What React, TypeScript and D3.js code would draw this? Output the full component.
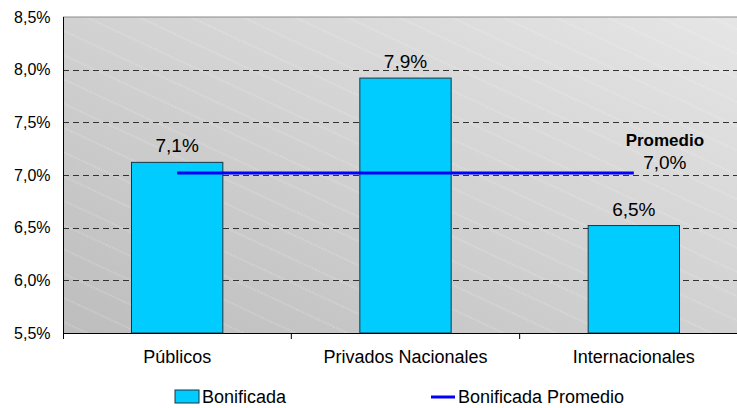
import React, { useEffect, useRef } from 'react';
import * as d3 from 'd3';

const categories = ['Públicos', 'Privados Nacionales', 'Internacionales'];
const bonificada = [7.12, 7.92, 6.52];
const bonificadaPromedio = 7.02;
const barLabels = ['7,1%', '7,9%', '6,5%'];
const promedioLabel = '7,0%';
const yTicks = [5.5, 6.0, 6.5, 7.0, 7.5, 8.0, 8.5];

const WIDTH = 737;
const HEIGHT = 408;
const FONT = '"Liberation Sans", Arial, sans-serif';

const App: React.FC = () => {
  const svgRef = useRef<SVGSVGElement>(null);

  useEffect(() => {
    const svg = d3.select(svgRef.current);
    svg.selectAll('*').remove();

    const marginLeft = 63;
    const marginTop = 17;
    const marginBottom = 75;
    const plotRight = 748; // plot runs past the right edge of the picture

    const locale = d3.formatLocale({ decimal: ',', thousands: '.', grouping: [3], currency: ['', '€'] });
    const fmt = locale.format('.1f');

    const x = d3.scaleBand<string>()
      .domain(categories)
      .range([marginLeft, plotRight])
      .paddingInner(0.6)
      .paddingOuter(0.3);

    const y = d3.scaleLinear()
      .domain([5.5, 8.5])
      .range([HEIGHT - marginBottom, marginTop]);

    const defs = svg.append('defs');
    const grad = defs.append('linearGradient')
      .attr('id', 'bg')
      .attr('x1', '0%').attr('y1', '100%')
      .attr('x2', '100%').attr('y2', '0%');
    grad.append('stop').attr('offset', '0%').attr('stop-color', '#bdbdbd');
    grad.append('stop').attr('offset', '100%').attr('stop-color', '#e6e6e6');

    const hatch = defs.append('pattern')
      .attr('id', 'hatch')
      .attr('patternUnits', 'userSpaceOnUse')
      .attr('width', 40)
      .attr('height', 22)
      .attr('patternTransform', 'rotate(25)');
    hatch.append('line')
      .attr('x1', 0).attr('y1', 1).attr('x2', 40).attr('y2', 1)
      .attr('stroke', '#ffffff')
      .attr('stroke-opacity', 0.4)
      .attr('stroke-width', 0.8)
      .attr('stroke-dasharray', '2,1');

    const plotH = y(5.5) - y(8.5);
    // Plot background
    svg.append('rect')
      .attr('x', marginLeft).attr('y', y(8.5))
      .attr('width', plotRight - marginLeft).attr('height', plotH)
      .attr('fill', 'url(#bg)');
    svg.append('rect')
      .attr('x', marginLeft).attr('y', y(8.5))
      .attr('width', plotRight - marginLeft).attr('height', plotH)
      .attr('fill', 'url(#hatch)');

    // Top border
    svg.append('line')
      .attr('x1', marginLeft).attr('x2', plotRight)
      .attr('y1', y(8.5)).attr('y2', y(8.5))
      .attr('stroke', '#8a8a8a').attr('stroke-width', 1);

    // Dashed gridlines
    svg.append('g')
      .selectAll('line')
      .data(yTicks.filter(t => t > 5.5 && t < 8.5))
      .enter()
      .append('line')
      .attr('x1', marginLeft).attr('x2', plotRight)
      .attr('y1', d => Math.round(y(d)) + 0.5).attr('y2', d => Math.round(y(d)) + 0.5)
      .attr('stroke', '#333')
      .attr('stroke-width', 1)
      .attr('stroke-dasharray', '6,4');

    // Bars
    svg.append('g')
      .selectAll('rect')
      .data(categories)
      .enter()
      .append('rect')
      .attr('x', d => x(d)!)
      .attr('y', (d, i) => y(bonificada[i]))
      .attr('width', x.bandwidth())
      .attr('height', (d, i) => y(5.5) - y(bonificada[i]))
      .attr('fill', '#00ccff')
      .attr('stroke', '#1b3440')
      .attr('stroke-width', 1);

    // Bar labels
    svg.append('g')
      .selectAll('text')
      .data(categories)
      .enter()
      .append('text')
      .attr('x', d => x(d)! + x.bandwidth() / 2)
      .attr('y', (d, i) => y(bonificada[i]) - 10)
      .attr('text-anchor', 'middle')
      .attr('font-family', FONT)
      .attr('font-size', '19px')
      .attr('fill', '#000')
      .text((d, i) => barLabels[i]);

    // Average line
    const first = categories[0];
    const last = categories[categories.length - 1];
    svg.append('line')
      .attr('x1', x(first)! + x.bandwidth() / 2)
      .attr('x2', x(last)! + x.bandwidth() / 2)
      .attr('y1', y(bonificadaPromedio)).attr('y2', y(bonificadaPromedio))
      .attr('stroke', '#0000ff')
      .attr('stroke-width', 3);

    const px = x(last)! + x.bandwidth() / 2 + 31;
    svg.append('text')
      .attr('x', px)
      .attr('y', y(bonificadaPromedio) - 27)
      .attr('text-anchor', 'middle')
      .attr('font-family', FONT)
      .attr('font-size', '17px')
      .attr('font-weight', 'bold')
      .text('Promedio');
    svg.append('text')
      .attr('x', px)
      .attr('y', y(bonificadaPromedio) - 4)
      .attr('text-anchor', 'middle')
      .attr('font-family', FONT)
      .attr('font-size', '19px')
      .text(promedioLabel);

    // Y axis
    svg.append('g')
      .attr('transform', `translate(${marginLeft + 0.5},0)`)
      .call(d3.axisLeft(y).tickValues(yTicks).tickSize(0).tickPadding(13).tickFormat(d => fmt(d as number) + '%'))
      .call(g => g.select('.domain').attr('stroke', '#000').attr('d', `M0,${y(8.5)}V${y(5.5) + 6}`))
      .call(g => g.selectAll('.tick text')
        .attr('fill', '#000')
        .attr('font-family', FONT)
        .attr('font-size', '16px'));

    // X axis
    svg.append('line')
      .attr('x1', marginLeft).attr('x2', plotRight)
      .attr('y1', y(5.5) + 0.5).attr('y2', y(5.5) + 0.5)
      .attr('stroke', '#000');
    svg.append('g')
      .selectAll('line')
      .data(categories.slice(1))
      .enter()
      .append('line')
      .attr('x1', d => x(d)! - (x.step() - x.bandwidth()) / 2)
      .attr('x2', d => x(d)! - (x.step() - x.bandwidth()) / 2)
      .attr('y1', y(5.5)).attr('y2', y(5.5) + 6)
      .attr('stroke', '#000');
    svg.append('g')
      .selectAll('text')
      .data(categories)
      .enter()
      .append('text')
      .attr('x', d => x(d)! + x.bandwidth() / 2)
      .attr('y', y(5.5) + 30)
      .attr('text-anchor', 'middle')
      .attr('font-family', FONT)
      .attr('font-size', '18px')
      .text(d => d);

    // Legend
    const ly = 397;
    const legend = svg.append('g').attr('font-family', FONT).attr('font-size', '18px');
    legend.append('rect')
      .attr('x', 175).attr('y', ly - 7)
      .attr('width', 24).attr('height', 13)
      .attr('fill', '#00ccff').attr('stroke', '#1b3440');
    legend.append('text').attr('x', 202).attr('y', ly + 6).text('Bonificada');
    legend.append('line')
      .attr('x1', 431).attr('x2', 455)
      .attr('y1', ly).attr('y2', ly)
      .attr('stroke', '#0000ff').attr('stroke-width', 3);
    legend.append('text').attr('x', 458).attr('y', ly + 6).text('Bonificada Promedio');
  }, []);

  return (
    <svg
      ref={svgRef}
      width={WIDTH}
      height={HEIGHT}
      style={{ position: 'absolute', left: 0, top: 0, background: '#fff' }}
    />
  );
};

export default App;
